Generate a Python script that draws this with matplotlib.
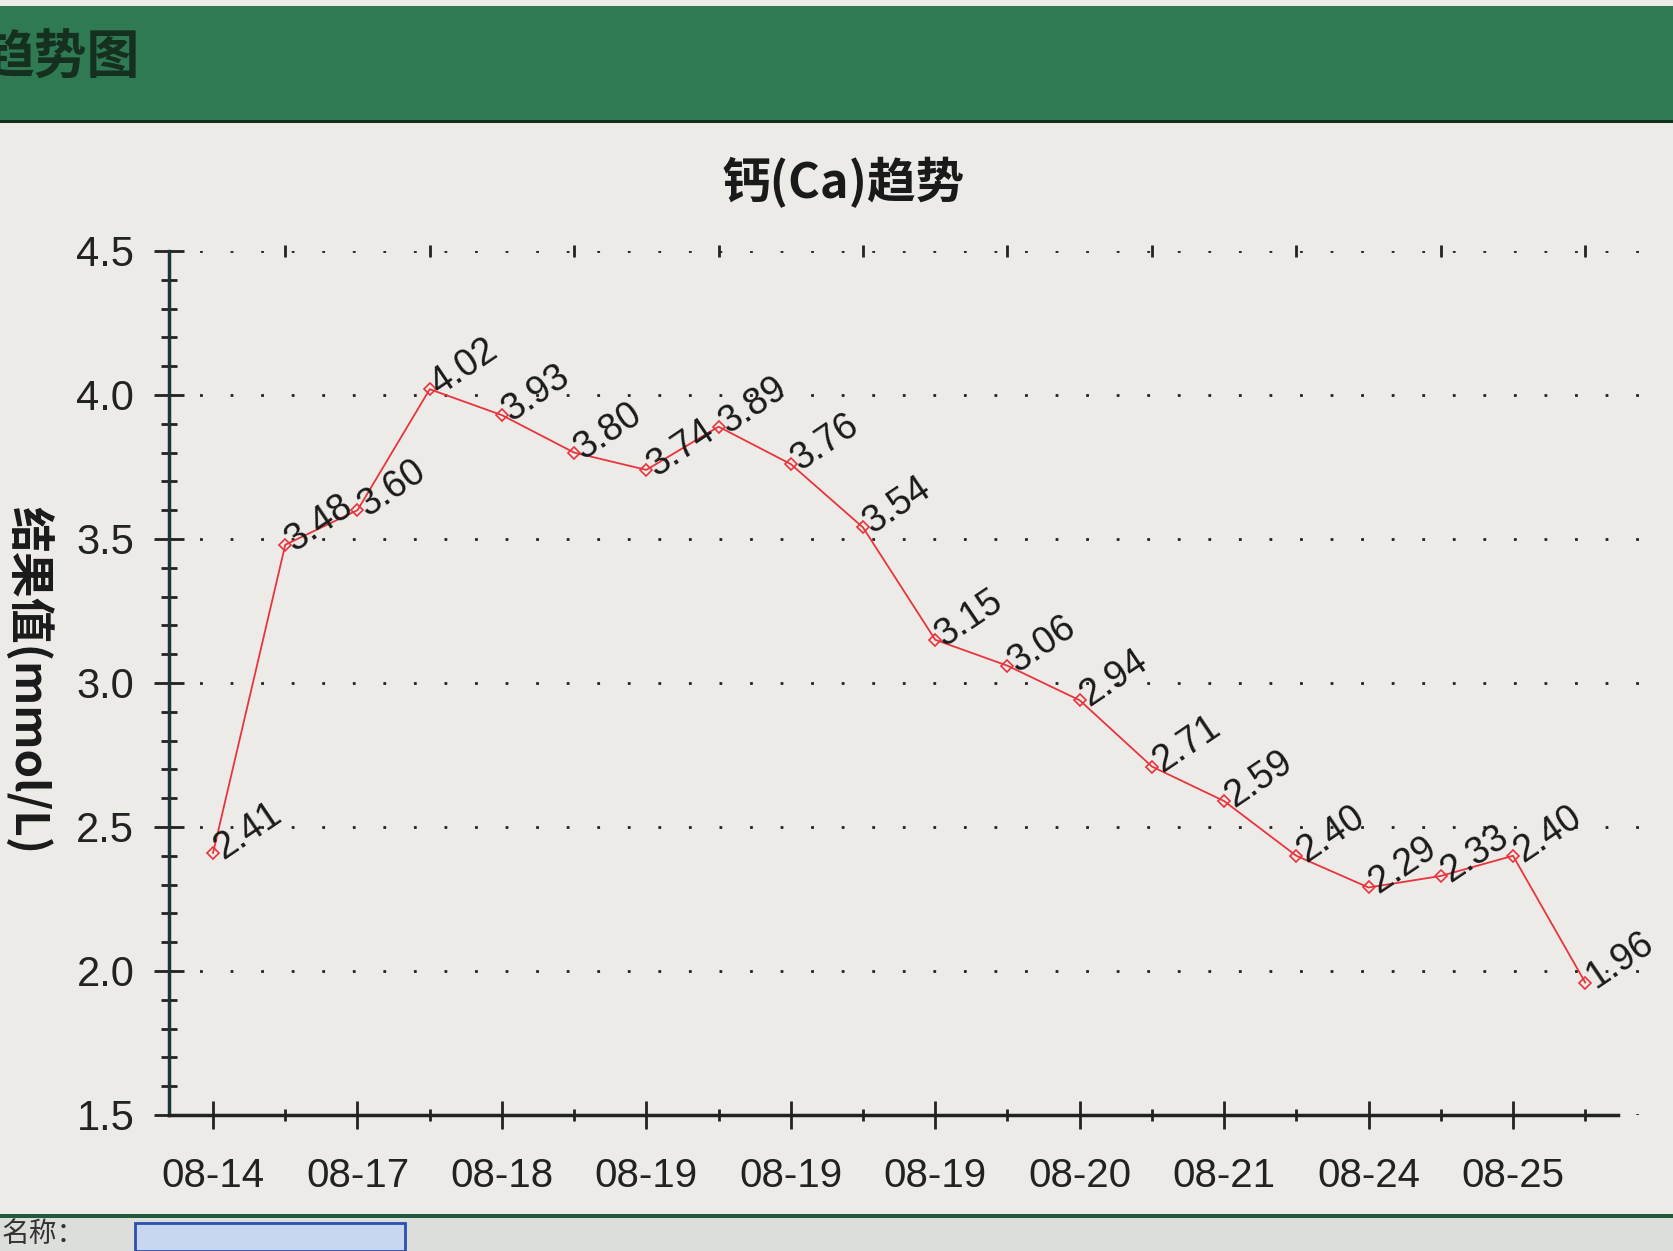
import matplotlib
matplotlib.use('Agg')
import matplotlib.pyplot as plt
from matplotlib.patches import Rectangle
from matplotlib.ticker import FixedLocator, MultipleLocator, FormatStrFormatter

plt.rcParams['font.family'] = ['Liberation Sans', 'Noto Sans CJK SC', 'DejaVu Sans']

# Ca values, one per test
values = [2.41, 3.48, 3.60, 4.02, 3.93, 3.80, 3.74, 3.89, 3.76, 3.54,
          3.15, 3.06, 2.94, 2.71, 2.59, 2.40, 2.29, 2.33, 2.40, 1.96]
# tick labels shown at every other test
date_labels = ['08-14', '08-17', '08-18', '08-19', '08-19',
               '08-19', '08-20', '08-21', '08-24', '08-25']
title = '钙(Ca)趋势'
ylabel = '结果值(mmol/L)'

bg = '#edebe8'
fig = plt.figure(figsize=(16.73, 12.51), dpi=100, facecolor=bg)

# Header bar of the window
fig.patches.append(Rectangle((0, 1 - 122 / 1251), 1, 116 / 1251, transform=fig.transFigure,
                             facecolor='#2f7a52', edgecolor='none', zorder=0))
fig.patches.append(Rectangle((0, 1 - 123 / 1251), 1, 3 / 1251, transform=fig.transFigure,
                             facecolor='#123020', edgecolor='none', zorder=0))
fig.text(139 / 1673, 1 - 58 / 1251, '趋势图', ha='right', va='center', fontsize=38,
         fontweight='bold', color='#16301f', family=['Noto Sans CJK SC'])

# Bottom strip
fig.patches.append(Rectangle((0, 0), 1, 33 / 1251, transform=fig.transFigure,
                             facecolor='#dcdedb', edgecolor='none', zorder=0))
fig.patches.append(Rectangle((0, 33 / 1251), 1, 4 / 1251, transform=fig.transFigure,
                             facecolor='#1f5a3a', edgecolor='none', zorder=0))
fig.text(2 / 1673, 2 / 1251, '名称：', ha='left', va='bottom', fontsize=20,
         color='#333333', family=['Noto Sans CJK SC'])
fig.patches.append(Rectangle((135 / 1673, 0), 270 / 1673, 28 / 1251, transform=fig.transFigure,
                             facecolor='#c9d6f0', edgecolor='#2a4fb0', lw=2, zorder=0))

ax = fig.add_axes([169 / 1673, 1 - 1115 / 1251, (1643 - 169) / 1673, (1115 - 251) / 1251])
ax.set_facecolor('none')

x = list(range(len(values)))
ax.plot(x, values, color='#e8343c', lw=1.3, marker='D', ms=6, mfc='none', mec='#e8343c', mew=1.2,
        zorder=3)
for xi, v in zip(x, values):
    ax.annotate('%.2f' % v, (xi, v), xytext=(3, 1), textcoords='offset points',
                rotation=34, rotation_mode='anchor', ha='left', va='center',
                fontsize=27, color='#1a1a1a', zorder=4)

ax.set_xlim(-0.61, 19.8)
ax.set_ylim(1.5, 4.5)

ax.xaxis.set_major_locator(FixedLocator(x[::2]))
ax.xaxis.set_minor_locator(FixedLocator(x[1::2]))
ax.set_xticklabels(date_labels)
ax.yaxis.set_major_locator(MultipleLocator(0.5))
ax.yaxis.set_minor_locator(MultipleLocator(0.1))
ax.yaxis.set_major_formatter(FormatStrFormatter('%.1f'))

ax.grid(True, which='major', axis='y', color='#222222', linestyle=(0, (1, 10)), lw=2.0)
for s in ['top', 'right']:
    ax.spines[s].set_visible(False)
ax.spines['left'].set_linewidth(2.5)
ax.spines['left'].set_color('#1d3535')
ax.spines['bottom'].set_linewidth(2.5)
ax.spines['bottom'].set_color('#222222')
ax.spines['bottom'].set_bounds(-0.61, 19.45)

ax.tick_params(axis='y', which='major', direction='inout', length=22, width=2, pad=14,
               labelsize=30, colors='#222222')
ax.tick_params(axis='y', which='minor', direction='inout', length=12, width=2, colors='#222222')
ax.tick_params(axis='x', which='major', direction='inout', length=20, width=2, pad=20,
               labelsize=29, colors='#222222')
ax.tick_params(axis='x', which='minor', direction='inout', length=8, width=2, colors='#222222',
               top=True)

fig.text(843 / 1673, 1 - 183 / 1251, title, ha='center', va='center', fontsize=35,
         fontweight='bold', color='#1a1a1a', family=['Noto Sans CJK SC', 'DejaVu Sans'])
fig.text(27 / 1673, 1 - 680 / 1251, ylabel, ha='center', va='center', rotation=-90,
         fontsize=33, fontweight='bold', color='#1a1a1a', family=['Noto Sans CJK SC', 'DejaVu Sans'])

fig.savefig('out.png', dpi=100, facecolor=bg)
